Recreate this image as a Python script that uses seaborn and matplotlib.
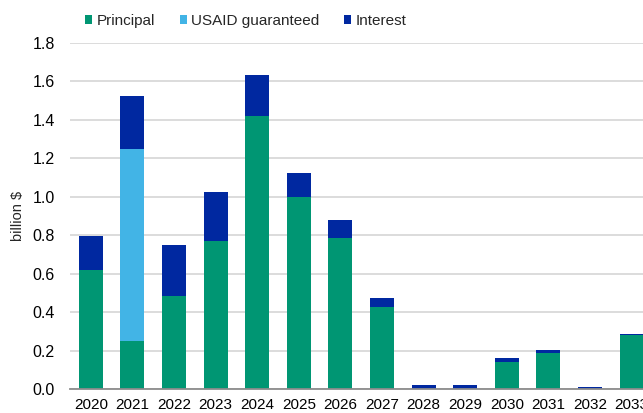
import matplotlib
matplotlib.use("Agg")
import matplotlib.pyplot as plt
from matplotlib.patches import Patch
import seaborn as sns
import numpy as np
import pandas as pd

years = ["2020", "2021", "2022", "2023", "2024", "2025", "2026",
         "2027", "2028", "2029", "2030", "2031", "2032", "2033"]
principal = [0.62, 0.25, 0.485, 0.77, 1.42, 1.00, 0.785,
             0.43, 0.0, 0.0, 0.14, 0.187, 0.0, 0.281]
usaid = [0.0, 1.00, 0.0, 0.0, 0.0, 0.0, 0.0,
         0.0, 0.0, 0.0, 0.0, 0.0, 0.0, 0.0]
interest = [0.177, 0.273, 0.263, 0.253, 0.214, 0.124, 0.094,
            0.047, 0.024, 0.024, 0.025, 0.016, 0.010, 0.005]
series_names = ["Principal", "USAID guaranteed", "Interest"]
yticks = [0.0, 0.2, 0.4, 0.6, 0.8, 1.0, 1.2, 1.4, 1.6, 1.8]

c_principal = "#009673"
c_usaid = "#42B4E6"
c_interest = "#0028A0"

sns.set_style("white")
plt.rcParams["font.family"] = ["Liberation Sans", "DejaVu Sans"]

df = pd.DataFrame({"year": years, "principal": principal,
                   "usaid": usaid, "interest": interest})
df["lvl2"] = df["principal"] + df["usaid"]
df["lvl3"] = df["lvl2"] + df["interest"]

W, H = 643, 413
fig = plt.figure(figsize=(W / 100, H / 100), dpi=100)
ax = fig.add_axes([70 / W, (H - 389.3) / H, 582.4 / W, (389.3 - 43) / H])

bw = 0.58
sns.barplot(data=df, x="year", y="lvl3", color=c_interest, saturation=1,
            width=bw, ax=ax, linewidth=0, zorder=3)
sns.barplot(data=df, x="year", y="lvl2", color=c_usaid, saturation=1,
            width=bw, ax=ax, linewidth=0, zorder=3)
sns.barplot(data=df, x="year", y="principal", color=c_principal, saturation=1,
            width=bw, ax=ax, linewidth=0, zorder=3)

ax.set_xlim(-0.5, len(years) - 0.5)
ax.set_ylim(0, 1.8)
ax.set_yticks(yticks)
ax.set_yticklabels([f"{v:.1f}" for v in yticks])
ax.yaxis.grid(True, color="#D9D9D9", linewidth=1.3, zorder=0)
ax.set_axisbelow(True)
for s in ["left", "top", "right"]:
    ax.spines[s].set_visible(False)
ax.spines["bottom"].set_color("#8C8C8C")
ax.spines["bottom"].set_linewidth(1.3)
ax.spines["bottom"].set_zorder(4)
ax.tick_params(axis="y", length=0, labelsize=11.5, colors="black", pad=11)
ax.tick_params(axis="x", length=0, labelsize=11, colors="black", pad=6.5)
ax.set_xlabel("")
ax.set_ylabel("billion $", fontsize=10.5, labelpad=5)

handles = [Patch(facecolor=c_principal, edgecolor="none"),
           Patch(facecolor=c_usaid, edgecolor="none"),
           Patch(facecolor=c_interest, edgecolor="none")]
fig.legend(handles, series_names, loc="center left",
           bbox_to_anchor=(85 / W, 1 - 21 / H), ncol=3, frameon=False,
           fontsize=11, handlelength=0.47, handleheight=0.47,
           handletextpad=0.3, columnspacing=1.6, borderpad=0,
           borderaxespad=0)

fig.savefig("out.png", dpi=100)
